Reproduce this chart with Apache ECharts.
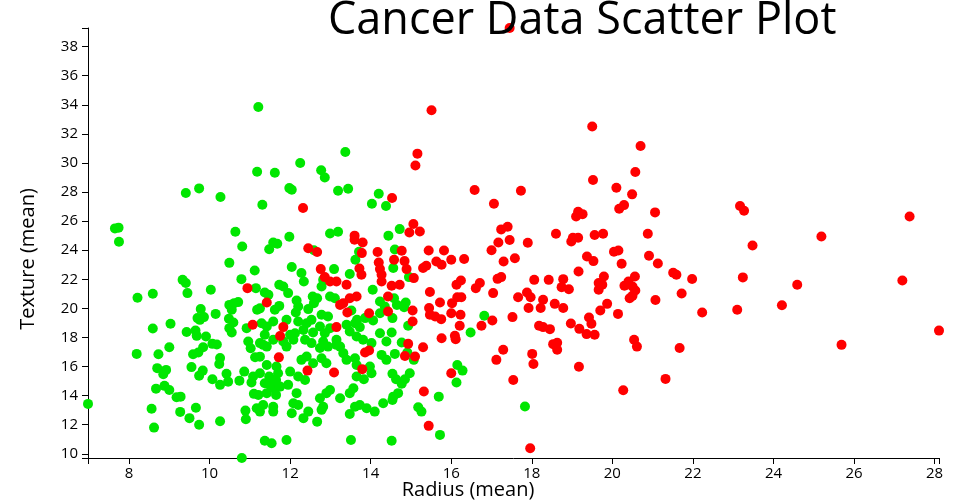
<!DOCTYPE html>
<html>

<head>
    <meta charset="utf-8">
    <title>Cancer Data Scatter Plot</title>
    <script src="https://cdn.jsdelivr.net/npm/echarts@6.0.0/dist/echarts.min.js"></script>
    <style>
        html, body { margin: 0; padding: 0; background: #fff; }
    </style>
</head>

<body>
    <div id="main" style="width:960px;height:500px;"></div>
    <script type="text/javascript">

        // axis extents (data min / max) and tick labels
        var xMin = 6.981, xMax = 28.11;
        var yMin = 9.71, yMax = 39.28;
        var xTicks = [8, 10, 12, 14, 16, 18, 20, 22, 24, 26, 28];
        var yTicks = [10, 12, 14, 16, 18, 20, 22, 24, 26, 28, 30, 32, 34, 36, 38];

        // malignant (red) : radius mean / texture mean
        var malignantRadius = [
            12.32, 12.45, 12.67, 13.60, 13.60, 13.80, 13.78, 14.17, 14.20, 14.53,
            15.06, 14.96, 15.22, 14.77, 14.58, 14.84, 12.76, 13.72, 14.23, 14.89,
            15.51, 15.16, 15.11, 16.58, 17.73, 17.06, 17.24, 17.40, 17.17, 17.45,
            17.90, 17.00, 17.58, 15.44, 15.82, 15.63, 16.00, 16.32, 17.30, 19.50,
            20.70, 20.57, 19.52, 20.10, 20.49, 20.17, 20.29, 21.06, 23.17, 23.27,
            19.10, 19.15, 19.26, 18.60, 19.02, 19.15, 18.98, 19.56, 19.77, 20.88,
            23.48, 19.37, 19.53, 20.04, 20.15, 20.91, 21.13, 20.23, 19.16, 21.51,
            21.59, 21.98, 23.24, 18.06, 18.42, 18.78, 19.79, 20.56, 20.40, 27.38,
            25.19, 24.59, 27.20, 24.21, 25.69, 28.11, 23.10, 18.74, 18.92, 19.66,
            19.75, 19.66, 20.30, 20.50, 20.57, 20.50, 20.43, 21.72, 21.07, 18.57,
            18.78, 19.87, 19.70, 20.14, 22.23, 18.97, 19.18, 19.42, 19.48, 19.36,
            19.56, 18.45, 18.53, 18.63, 18.63, 20.54, 20.61, 21.67, 19.17, 21.32,
            20.27, 15.07, 15.30, 15.38, 15.76, 14.72, 14.52, 15.47, 16.24, 16.13,
            16.15, 16.25, 16.71, 16.61, 17.24, 17.15, 17.04, 17.88, 17.97, 17.92,
            17.66, 18.28, 18.22, 18.18, 18.28, 18.01, 18.04, 17.54, 17.96, 17.29,
            17.12, 17.52, 17.02, 16.75, 16.09, 16.11, 15.76, 16.00, 16.23, 16.21,
            15.72, 15.45, 15.47, 15.60, 15.75, 16.02, 15.04, 15.04, 15.30, 14.93,
            14.85, 15.10, 16.00, 15.32, 15.44, 10.94, 11.07, 11.42, 11.72, 11.83,
            11.75, 12.43, 13.09, 13.79, 13.86, 13.96, 12.86, 12.99, 13.15, 13.40,
            13.77, 14.27, 14.27, 14.43, 14.43, 13.96, 13.65, 13.48, 13.32, 13.24,
            13.42, 13.15, 17.45
        ];
        var malignantTexture = [
            26.90, 24.14, 23.87, 25.00, 24.72, 24.53, 23.80, 23.87, 23.16, 27.59,
            25.80, 25.22, 25.29, 23.96, 23.34, 23.25, 22.70, 22.74, 22.70, 22.70,
            33.62, 30.64, 29.83, 28.14, 28.09, 27.20, 25.43, 25.61, 24.53, 24.70,
            24.51, 24.00, 23.45, 23.98, 23.98, 23.22, 23.34, 23.39, 23.22, 32.51,
            31.17, 29.38, 28.83, 28.30, 27.84, 26.85, 27.10, 26.60, 27.04, 26.71,
            26.32, 26.64, 26.48, 25.13, 24.86, 24.86, 24.60, 25.04, 25.13, 25.13,
            24.32, 23.57, 23.25, 23.89, 23.98, 23.62, 23.09, 23.07, 22.54, 22.45,
            22.31, 22.02, 22.13, 21.96, 21.96, 22.01, 22.19, 22.19, 21.85, 26.32,
            24.94, 21.62, 21.92, 20.22, 17.49, 18.47, 19.90, 21.46, 21.32, 21.74,
            21.62, 21.28, 21.55, 21.50, 21.23, 20.86, 20.70, 21.02, 20.57, 20.31,
            20.02, 20.31, 19.85, 19.62, 19.71, 18.96, 18.59, 19.37, 18.94, 18.23,
            18.18, 18.57, 17.54, 17.63, 17.15, 17.84, 17.37, 17.28, 15.98, 15.15,
            14.37, 22.08, 22.77, 22.93, 23.00, 21.62, 21.55, 21.12, 21.92, 21.62,
            20.77, 20.77, 21.74, 21.39, 22.15, 22.03, 21.05, 21.09, 20.77, 20.02,
            20.77, 20.59, 20.02, 18.80, 18.71, 16.87, 16.18, 15.08, 10.38, 17.15,
            16.46, 19.40, 19.16, 18.80, 18.11, 17.88, 17.95, 19.67, 19.56, 18.80,
            20.40, 20.02, 19.56, 19.44, 19.26, 20.36, 19.85, 19.10, 17.33, 17.56,
            16.73, 16.69, 15.54, 14.28, 11.92, 21.39, 18.87, 20.40, 16.63, 18.71,
            18.10, 15.72, 15.59, 15.82, 16.96, 17.10, 22.15, 21.85, 21.85, 21.62,
            22.31, 22.31, 21.85, 20.81, 19.78, 19.67, 20.81, 20.70, 20.36, 20.24,
            19.72, 18.71, 39.28
        ];

        // benign (green) : radius mean / texture mean
        var benignRadius = [
            11.21, 11.18, 11.62, 12.25, 12.77, 12.86, 9.41, 9.74, 10.27, 11.31,
            11.98, 12.04, 7.65, 7.74, 7.75, 10.64, 10.81, 11.58, 11.68, 11.98,
            11.48, 12.59, 13.37, 13.19, 13.44, 14.20, 14.03, 14.38, 10.49, 12.99,
            13.19, 13.71, 14.44, 14.72, 14.60, 13.62, 12.04, 13.09, 14.56, 11.12,
            14.95, 16.82, 16.48, 14.83, 14.87, 14.54, 14.93, 14.77, 14.60, 14.91,
            15.07, 14.97, 14.85, 14.77, 14.63, 14.54, 14.56, 14.54, 14.68, 16.15,
            16.28, 16.13, 15.69, 15.18, 15.26, 15.72, 17.83, 14.52,
            10.79, 11.15, 9.33, 9.41, 8.21, 8.59, 9.45, 10.03, 10.71, 10.49,
            10.55, 10.61, 10.15, 9.78, 9.70, 9.76, 9.86, 10.48, 10.59, 11.18,
            10.92, 10.49, 10.55, 8.59, 9.03, 9.43, 9.65, 9.68, 9.91, 10.96,
            11.02, 11.13, 9.00, 8.73, 8.19, 9.59, 9.72, 9.84, 10.07, 10.18,
            10.26, 10.24, 8.70, 8.92, 8.85, 9.55, 9.74, 9.83, 10.07, 10.26,
            10.42, 10.46, 10.74, 10.86, 11.04, 11.10, 8.67, 8.88, 9.00, 9.18,
            9.28, 6.981, 8.56, 9.27, 9.66, 9.50, 9.74, 8.62, 10.26, 10.89,
            10.90, 11.17, 10.80,
            11.33, 11.25, 11.37, 11.48, 11.65, 11.21, 11.42, 11.58, 11.65, 11.33, 11.58,
            12.28, 12.34, 13.48, 14.58, 14.65, 14.23, 14.35, 14.05, 13.86, 13.66,
            13.73, 13.52, 12.99, 13.11, 12.78, 12.82, 12.56, 12.59, 12.67, 12.45,
            12.16, 12.20, 12.14, 11.83, 11.95, 11.73, 11.37, 11.46, 11.73, 11.62,
            11.25, 11.29, 11.42, 11.58, 11.91, 12.20, 12.41, 12.53, 12.78, 12.94,
            12.74, 12.99, 12.12, 12.33, 12.57, 12.86, 13.40, 13.61, 13.48, 14.06,
            14.23, 14.23, 14.52, 13.65, 13.81, 14.02, 14.39, 13.15, 13.24, 12.82,
            12.94, 12.37, 12.53, 12.74, 12.00, 12.08, 11.83, 11.91, 11.58, 11.37,
            11.25, 11.42,
            12.28, 12.41, 12.57, 12.78, 12.90, 13.15, 13.32, 13.40, 13.61, 13.65,
            13.98, 14.02, 13.65, 13.83, 14.27, 14.39, 11.08, 11.25, 11.42, 11.66,
            11.70, 12.00, 12.20, 12.37, 11.50, 11.75, 11.95, 12.16, 12.74, 12.90,
            12.99, 12.82, 12.78, 13.24, 13.48, 13.57, 12.08, 12.20, 12.45, 12.33,
            12.04, 12.67, 13.61, 13.73, 13.90, 14.10, 13.48, 14.31, 11.25, 11.58,
            11.37, 11.54, 11.91, 13.51
        ];
        var benignTexture = [
            33.85, 29.40, 29.33, 30.00, 29.50, 29.00, 27.93, 28.25, 27.66, 27.13,
            28.27, 28.16, 25.50, 25.55, 24.58, 25.27, 24.26, 24.53, 24.44, 24.92,
            24.07, 24.00, 30.75, 28.09, 28.23, 27.88, 27.20, 27.04, 23.13, 25.15,
            25.27, 23.89, 25.00, 25.45, 24.05, 23.34, 22.84, 22.70, 22.77, 22.60,
            22.15, 19.49, 18.34, 20.08, 20.40, 19.33, 18.80, 17.65, 16.87, 16.97,
            16.46, 15.54, 15.13, 14.81, 15.13, 15.50, 13.93, 13.70, 14.17, 16.11,
            15.72, 14.90, 13.93, 13.20, 12.90, 11.30, 13.25, 10.90,
            22.01, 21.39, 21.96, 21.74, 20.73, 21.00, 21.05, 21.28, 20.43, 20.24,
            19.90, 20.36, 19.62, 19.95, 19.33, 19.21, 19.40, 19.28, 19.03, 19.90,
            18.64, 18.64, 18.34, 18.61, 18.94, 18.37, 18.48, 18.11, 18.06, 17.72,
            17.26, 16.64, 17.33, 16.85, 16.87, 16.85, 16.96, 17.33, 17.56, 17.51,
            16.58, 16.18, 15.89, 15.77, 15.47, 15.96, 15.36, 15.72, 15.13, 14.74,
            15.50, 14.96, 15.03, 15.65, 14.90, 14.12, 14.48, 14.67, 14.39, 13.89,
            13.93, 13.43, 13.10, 12.88, 13.16, 12.45, 12.00, 11.80, 12.24, 12.97,
            12.38, 13.13, 9.71,
            17.49, 16.68, 14.85, 15.31, 15.08, 14.05, 14.17, 14.51, 14.05, 13.36, 13.24,
            22.43, 21.85, 22.36, 20.70, 20.24, 20.47, 20.13, 21.28, 19.33, 19.21,
            18.71, 19.85, 20.81, 20.70, 21.50, 21.96, 20.81, 20.36, 20.70, 19.95,
            20.54, 20.13, 19.72, 21.50, 21.05, 21.62, 21.09, 20.93, 20.17, 19.90,
            20.00, 18.98, 18.75, 19.10, 19.21, 19.10, 18.98, 19.21, 19.56, 19.44,
            18.75, 18.64, 18.29, 18.52, 18.34, 18.29, 18.87, 18.98, 18.41, 19.16,
            19.67, 18.29, 18.34, 18.06, 17.84, 17.61, 17.72, 17.84, 17.37, 17.72,
            17.37, 17.84, 17.61, 17.27, 18.18, 17.84, 17.72, 17.37, 17.84, 18.18,
            17.61, 17.37,
            16.46, 16.69, 16.23, 16.57, 16.23, 17.49, 16.92, 16.46, 16.57, 16.11,
            16.00, 15.54, 15.31, 15.13, 16.80, 16.46, 15.31, 15.54, 16.11, 16.00,
            15.54, 15.65, 15.31, 15.08, 14.74, 14.62, 14.74, 14.17, 13.82, 14.17,
            14.39, 13.24, 13.02, 13.82, 14.17, 14.51, 13.48, 13.36, 12.90, 12.45,
            12.79, 12.21, 13.24, 13.36, 13.13, 12.90, 12.74, 13.48, 12.90, 12.90,
            10.90, 10.73, 10.95, 10.95
        ];

        var titleText = 'Cancer Data Scatter Plot';
        var xTitle = 'Radius (mean)';
        var yTitle = 'Texture (mean)';

        function pairs(xs, ys) {
            var out = [];
            for (var i = 0; i < xs.length; i++) {
                out.push([xs[i], ys[i]]);
            }
            return out;
        }

        var labelStyle = {
            fontFamily: 'Open Sans',
            fontSize: 15,
            color: '#000'
        };

        var option = {
            animation: false,
            grid: { left: 88, right: 21, top: 28, bottom: 42 },
            xAxis: {
                type: 'value',
                min: xMin,
                max: xMax,
                splitLine: { show: false },
                axisLine: { onZero: false, lineStyle: { color: '#000', width: 1 } },
                axisTick: {
                    length: 6,
                    lineStyle: { color: '#000' },
                    customValues: [xMin].concat(xTicks, [xMax])
                },
                axisLabel: Object.assign({ customValues: xTicks, margin: 8 }, labelStyle)
            },
            yAxis: {
                type: 'value',
                min: yMin,
                max: yMax,
                splitLine: { show: false },
                axisLine: { show: true, onZero: false, lineStyle: { color: '#000', width: 1 } },
                axisTick: {
                    show: true,
                    length: 6,
                    lineStyle: { color: '#000' },
                    customValues: [yMin].concat(yTicks, [yMax])
                },
                axisLabel: Object.assign({ customValues: yTicks, margin: 10 }, labelStyle)
            },
            series: [
                {
                    name: 'Benign',
                    type: 'scatter',
                    symbolSize: 10,
                    itemStyle: { color: '#00e600', opacity: 1 },
                    data: pairs(benignRadius, benignTexture)
                },
                {
                    name: 'Malignant',
                    type: 'scatter',
                    symbolSize: 10,
                    itemStyle: { color: '#ff0000', opacity: 1 },
                    data: pairs(malignantRadius, malignantTexture)
                }
            ],
            graphic: [
                {
                    type: 'text', x: 328, y: 21, z: 100,
                    style: {
                        text: titleText, font: '45px "Open Sans"', fill: '#000',
                        textAlign: 'left', textVerticalAlign: 'middle'
                    }
                },
                {
                    type: 'text', x: 468, y: 490, z: 100,
                    style: {
                        text: xTitle, font: '20px "Open Sans"', fill: '#000',
                        textAlign: 'center', textVerticalAlign: 'middle'
                    }
                },
                {
                    type: 'text', x: 28, y: 259, z: 100, rotation: Math.PI / 2,
                    style: {
                        text: yTitle, font: '20px "Open Sans"', fill: '#000',
                        textAlign: 'center', textVerticalAlign: 'middle'
                    }
                }
            ]
        };

        var myChart = echarts.init(document.getElementById('main'));
        myChart.setOption(option);
    </script>
</body>

</html>
